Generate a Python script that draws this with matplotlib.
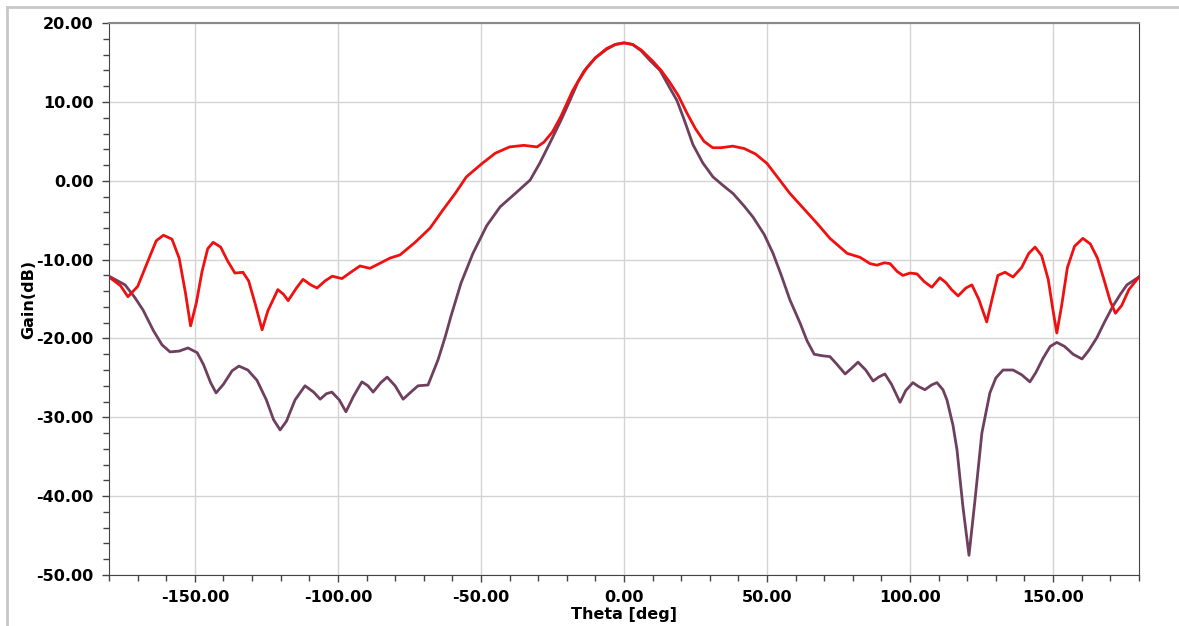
import numpy as np
import matplotlib.pyplot as plt
from matplotlib.ticker import MultipleLocator, FormatStrFormatter
from matplotlib.lines import Line2D

# co-pol (red) pattern
theta_red = [-180, -176, -173.4, -170, -166, -163.5, -161, -158, -155.5, -153.3, -151.5, -149.5,
             -147.5, -145.5, -143.6, -141, -138.5, -136, -133.2, -131.2, -129, -126.5, -124.5,
             -121, -119, -117.4, -114.5, -112.2, -109.5, -107.3, -104.5, -102, -98.6, -95.5,
             -92.3, -88.8, -85, -81.8, -78.3, -73, -67.8, -63.3, -59, -55.1, -49.6, -45, -40,
             -35, -30.4, -28, -25, -22, -18, -14, -10, -6, -3, 0, 3, 6, 10, 13, 16, 19, 22, 25,
             28, 31, 34, 38, 42, 46, 50, 54, 58, 62, 67.5, 72, 78, 82.5, 86, 88.4, 91, 93,
             95.5, 97.5, 100, 102.4, 105, 107.6, 110.4, 112.5, 114.5, 116.8, 119.5, 121.6, 124,
             126.8, 128.8, 130.7, 133.2, 136, 139, 141.5, 143.7, 146, 148.3, 150, 151.3, 153,
             155, 157.5, 160.4, 163, 165.5, 168, 170, 171.8, 174, 176.5, 180]
gain_red = [-12.2, -13.3, -14.7, -13.4, -9.8, -7.6, -6.9, -7.4, -9.8, -14.2, -18.4, -15.5,
            -11.5, -8.6, -7.8, -8.4, -10.2, -11.7, -11.6, -12.7, -15.5, -18.9, -16.5,
            -13.8, -14.4, -15.2, -13.6, -12.5, -13.2, -13.6, -12.7, -12.1, -12.4, -11.6,
            -10.8, -11.1, -10.4, -9.8, -9.4, -7.8, -6.0, -3.7, -1.6, 0.5, 2.2, 3.5, 4.3,
            4.5, 4.3, 4.9, 6.2, 8.2, 11.4, 13.9, 15.6, 16.8, 17.3, 17.5, 17.3, 16.6, 15.2,
            14.0, 12.5, 10.8, 8.6, 6.6, 5.0, 4.2, 4.2, 4.4, 4.1, 3.4, 2.2, 0.3, -1.6, -3.2,
            -5.4, -7.3, -9.2, -9.7, -10.5, -10.7, -10.4, -10.5, -11.5, -12.0, -11.7, -11.8,
            -12.8, -13.5, -12.3, -12.9, -13.8, -14.6, -13.6, -13.2, -15.0, -17.9, -14.8,
            -12.0, -11.6, -12.2, -11.0, -9.2, -8.4, -9.5, -12.5, -16.5, -19.3, -15.8, -11.0,
            -8.3, -7.3, -8.0, -9.8, -12.8, -15.3, -16.8, -15.8, -13.8, -12.2]

# cross-pol / second cut (purple)
theta_pur = [-180, -174.4, -171, -168.1, -164.5, -161.5, -158.7, -155.5, -152.4, -149.2, -147,
             -144.5, -142.6, -140, -137, -134.6, -131.5, -128.3, -125, -122.5, -120.2, -118,
             -115, -111.5, -108.5, -106.2, -104, -102.1, -99.5, -97.2, -94.5, -91.6, -89.5,
             -87.7, -85, -82.8, -80, -77.2, -74.5, -72, -68.5, -65, -62.5, -60.5, -57, -52.8,
             -48, -43.3, -38, -32.8, -29.5, -25.9, -22, -18.9, -16, -12.9, -10, -6, -3, 0, 3,
             6, 9, 12.6, 16, 18.5, 21, 24.1, 27.5, 31.1, 35, 38.1, 42, 45.1, 49, 52.1, 55, 58,
             61.5, 64, 66.5, 69.5, 72, 74.5, 77.3, 79.5, 81.8, 84.5, 87.1, 89, 91.2, 93.5,
             96.5, 98.5, 101, 103, 105.2, 107.5, 109.4, 111.5, 112.9, 115, 116.4, 118.5,
             120.6, 122.7, 125.1, 127.9, 130, 132.5, 136, 139, 141.9, 144, 146.5, 149, 151.3,
             154, 157, 160.1, 162.5, 165.3, 168, 170.9, 173.5, 175.8, 180]
gain_pur = [-12.1, -13.2, -14.8, -16.4, -19.0, -20.8, -21.7, -21.6, -21.2, -21.8, -23.3,
            -25.6, -26.9, -25.8, -24.1, -23.5, -24.0, -25.3, -27.8, -30.3, -31.6, -30.5,
            -27.8, -26.0, -26.8, -27.7, -27.0, -26.8, -27.8, -29.3, -27.3, -25.5, -26.0,
            -26.8, -25.6, -24.9, -26.0, -27.7, -26.8, -26.0, -25.9, -22.7, -19.8, -17.2,
            -13.0, -9.2, -5.7, -3.3, -1.6, 0.1, 2.2, 4.8, 7.7, 10.2, 12.6, 14.4, 15.6, 16.7,
            17.3, 17.5, 17.3, 16.5, 15.3, 14.0, 11.8, 10.2, 7.8, 4.6, 2.3, 0.5, -0.7, -1.6,
            -3.2, -4.6, -6.8, -9.2, -12.0, -15.1, -18.0, -20.3, -22.0, -22.2, -22.3, -23.3,
            -24.5, -23.8, -23.0, -24.0, -25.4, -24.9, -24.5, -25.8, -28.1, -26.6, -25.6,
            -26.1, -26.5, -25.9, -25.6, -26.5, -27.8, -31.0, -34.1, -41.4, -47.5, -40.5,
            -32.0, -26.9, -25.0, -24.0, -24.0, -24.6, -25.5, -24.3, -22.5, -21.0, -20.5,
            -21.0, -22.0, -22.6, -21.5, -19.9, -17.9, -15.9, -14.4, -13.2, -12.2]

plt.rcParams['font.family'] = 'DejaVu Sans'

fig = plt.figure(figsize=(11.79, 6.26), dpi=100)
ax = fig.add_axes([0.0925, 0.0815, 0.8735, 0.8815])

ax.plot(theta_pur, gain_pur, color='#6e3f5e', lw=2.0, solid_joinstyle='round')
ax.plot(theta_red, gain_red, color='#f01010', lw=2.0, solid_joinstyle='round')

ax.set_xlim(-180, 180)
ax.set_ylim(-50, 20)
ax.set_xticks([-150, -100, -50, 0, 50, 100, 150])
ax.xaxis.set_minor_locator(MultipleLocator(10))
ax.yaxis.set_major_locator(MultipleLocator(10))
ax.yaxis.set_minor_locator(MultipleLocator(2))
ax.xaxis.set_major_formatter(FormatStrFormatter('%.2f'))
ax.yaxis.set_major_formatter(FormatStrFormatter('%.2f'))
ax.tick_params(which='both', direction='out', color='#444444', width=1)
ax.tick_params(which='major', length=5, labelsize=11.5, pad=6)
ax.tick_params(which='minor', length=4)
for lbl in ax.get_xticklabels() + ax.get_yticklabels():
    lbl.set_fontweight('bold')

ax.grid(True, which='major', color='#d4d4d4', lw=1)
for s in ['left', 'bottom', 'right']:
    ax.spines[s].set_color('#444444')
ax.spines['top'].set_color('#8a8a8a')
ax.spines['top'].set_linewidth(1.5)

ax.set_xlabel('Theta [deg]', fontsize=11.5, fontweight='bold', labelpad=1)
ax.set_ylabel('Gain(dB)', fontsize=11.5, fontweight='bold', labelpad=0)

# outer light frame
fig.add_artist(Line2D([0.006, 1.0], [0.989, 0.989], transform=fig.transFigure, color='#c8c8c8', lw=2))
fig.add_artist(Line2D([0.006, 0.006], [0.0, 0.989], transform=fig.transFigure, color='#c8c8c8', lw=2))

fig.savefig('out.png', dpi=100)
